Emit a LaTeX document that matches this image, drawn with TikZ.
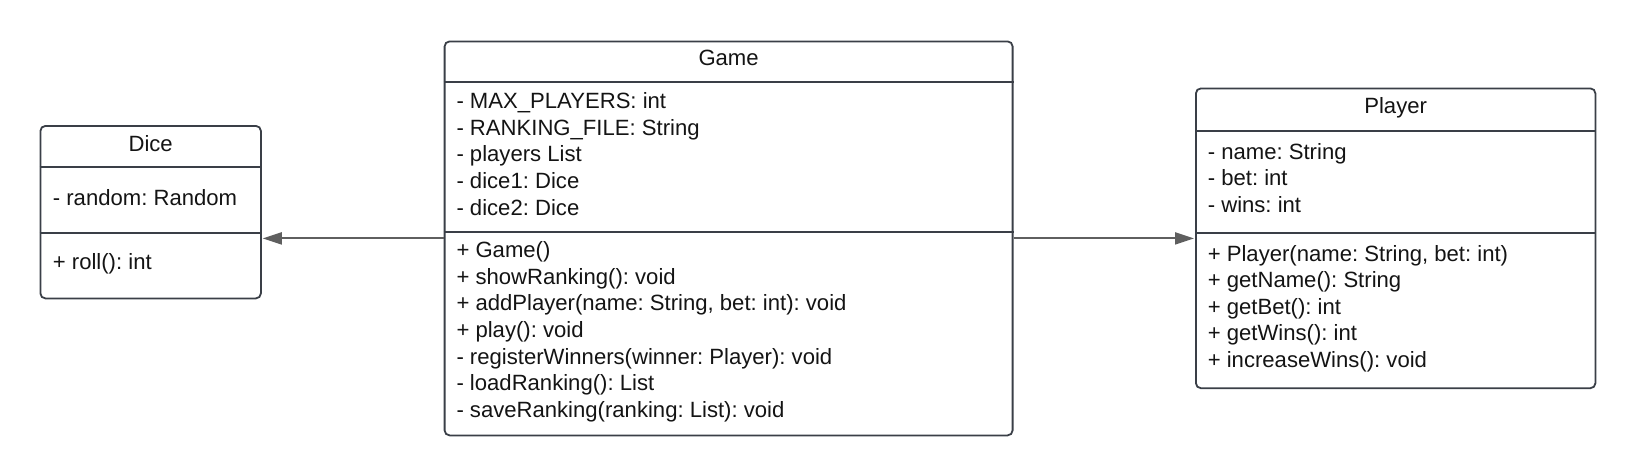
\documentclass[tikz,border=0pt]{standalone}
\usepackage{fontspec}
\setmainfont{Liberation Sans}
\usetikzlibrary{arrows.meta,calc}
\definecolor{border}{RGB}{58,63,71}
\definecolor{arrowgray}{RGB}{95,95,95}
\definecolor{txt}{RGB}{20,20,20}
\tikzset{
 classbox/.style={draw=border, line width=1.8pt, rounded corners=5pt, anchor=north west, inner sep=0pt, fill=white},
 divider/.style={draw=border, line width=1.8pt},
 title/.style={anchor=base, inner sep=0pt, font=\fontsize{22.1}{26}\selectfont\frenchspacing, text=txt},
 member/.style={anchor=base west, inner sep=0pt, font=\fontsize{22.1}{26}\selectfont\frenchspacing, text=txt},
 assoc/.style={draw=arrowgray, line width=2pt, shorten >=1pt, -{Triangle[length=19pt,width=12pt]}},
}
\begin{document}
\frenchspacing
\begin{tikzpicture}[x=1pt,y=-1pt]
\useasboundingbox (0,0) rectangle (1636,475);
% boxes
\node[classbox, minimum width=220.5pt, minimum height=172.5pt] (dice) at (39.5,125) {};
\node[classbox, minimum width=568pt, minimum height=394pt] (game) at (443.7,40.5) {};
\node[classbox, minimum width=399.5pt, minimum height=299.8pt] (player) at (1195,87.5) {};
% dividers
\draw[divider] (dice.west |- 0,167) -- (dice.east |- 0,167);
\draw[divider] (dice.west |- 0,232.7) -- (dice.east |- 0,232.7);
\draw[divider] (game.west |- 0,82.3) -- (game.east |- 0,82.3);
\draw[divider] (game.west |- 0,231.8) -- (game.east |- 0,231.8);
\draw[divider] (player.west |- 0,131) -- (player.east |- 0,131);
\draw[divider] (player.west |- 0,233) -- (player.east |- 0,233);
% Dice text
\node[title] (dicet) at (dice.center |- 0,151) {Dice};
\node[member] (dicea1) at (52.7,205.7) {- random: Random};
\node[member] (dicem1) at (52.7,269) {+ roll(): int};
% Game text
\node[title] (gamet) at (game.center |- 0,65.8) {Game};
\node[member] (gamea1) at (456.3,108.3) {- MAX\_PLAYERS: int};
\node[member] (gamea2) at (456.3,135) {- RANKING\_FILE: String};
\node[member] (gamea3) at (456.3,161.6) {- players List};
\node[member] (gamea4) at (456.3,188.3) {- dice1: Dice};
\node[member] (gamea5) at (456.3,215) {- dice2: Dice};
\node[member] (gamem1) at (456.3,257.7) {+ Game()};
\node[member] (gamem2) at (456.3,284.3) {+ showRanking(): void};
\node[member] (gamem3) at (456.3,310.9) {+ addPlayer(name: String, bet: int): void};
\node[member] (gamem4) at (456.3,337.5) {+ play(): void};
\node[member] (gamem5) at (456.3,364.1) {- registerWinners(winner: Player): void};
\node[member] (gamem6) at (456.3,390.7) {- loadRanking(): List};
\node[member] (gamem7) at (456.3,417.3) {- saveRanking(ranking: List): void};
% Player text
\node[title] (playert) at (player.center |- 0,113.5) {Player};
\node[member] (playera1) at (1207.6,159.3) {- name: String};
\node[member] (playera2) at (1207.6,185.8) {- bet: int};
\node[member] (playera3) at (1207.6,212.3) {- wins: int};
\node[member] (playerm1) at (1207.6,261) {+ Player(name: String, bet: int)};
\node[member] (playerm2) at (1207.6,287.6) {+ getName(): String};
\node[member] (playerm3) at (1207.6,314.2) {+ getBet(): int};
\node[member] (playerm4) at (1207.6,340.8) {+ getWins(): int};
\node[member] (playerm5) at (1207.6,367.3) {+ increaseWins(): void};
% associations
\draw[assoc] (game.west) -- (game.west -| dice.east);
\draw[assoc] (game.east) -- (game.east -| player.west);
\end{tikzpicture}
\end{document}
